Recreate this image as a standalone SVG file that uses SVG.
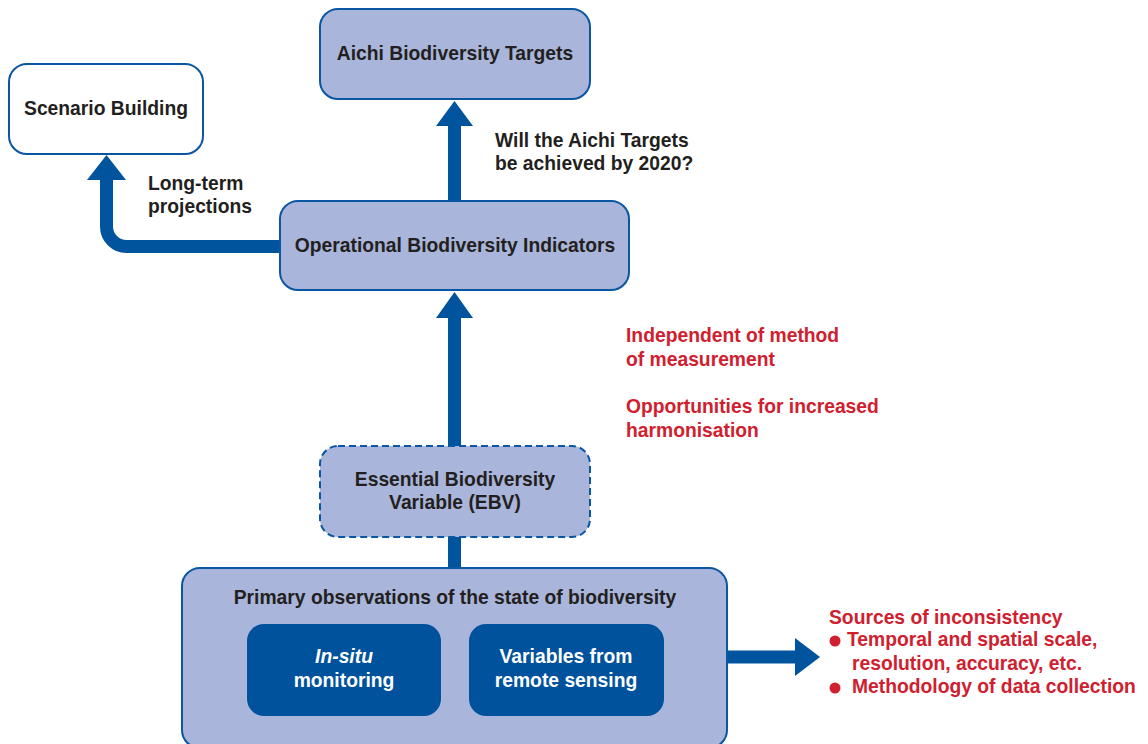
<svg xmlns="http://www.w3.org/2000/svg" width="1148" height="744" viewBox="0 0 1148 744">
<style>
.box{fill:#a9b5da;stroke:#0b56a2;stroke-width:2}
.white{fill:#ffffff;stroke:#0b56a2;stroke-width:2}
.dark{fill:#00529c}
.t{font-family:"Liberation Sans",Arial,sans-serif;font-weight:bold;font-size:19.3px;fill:#231f20}
.c{text-anchor:middle}
.w{fill:#ffffff}
.r{fill:#d0202f}
.shaft{fill:none;stroke:#00539d;stroke-width:13}
.head{fill:#00539d}
</style>
<rect width="1148" height="744" fill="#ffffff"/>
<g id="connectors">
<path class="shaft" d="M281,246.5 H126.5 A20,20 0 0 1 106.5,226.5 V178"/>
<polygon class="head" points="87,180 126,180 106.5,155"/>
<line class="shaft" x1="454.5" y1="201" x2="454.5" y2="124"/>
<polygon class="head" points="436,126 473,126 454.5,101"/>
<line class="shaft" x1="454.5" y1="446" x2="454.5" y2="316"/>
<polygon class="head" points="436,318 473,318 454.5,292"/>
<line class="shaft" x1="454.5" y1="537" x2="454.5" y2="569"/>
<line class="shaft" x1="726" y1="657" x2="797" y2="657"/>
<polygon class="head" points="795,638 795,676 820,657"/>
</g>
<g id="aichi">
<rect class="box" x="320" y="9" width="270" height="90" rx="18"/>
<text class="t c" x="455" y="60">Aichi Biodiversity Targets</text>
</g>
<g id="scenario">
<rect class="white" x="9" y="64" width="194" height="90" rx="18"/>
<text class="t c" x="106" y="115">Scenario Building</text>
</g>
<g id="label-aichi">
<text class="t" x="495" y="147">Will the Aichi Targets</text>
<text class="t" x="495" y="170">be achieved by 2020?</text>
</g>
<g id="label-longterm">
<text class="t" x="148" y="190">Long-term</text>
<text class="t" x="148" y="213">projections</text>
</g>
<g id="operational">
<rect class="box" x="280" y="201" width="349" height="89" rx="18"/>
<text class="t c" x="455" y="252">Operational Biodiversity Indicators</text>
</g>
<g id="label-independent">
<text class="t r" x="626" y="342">Independent of method</text>
<text class="t r" x="626" y="366">of measurement</text>
<text class="t r" x="626" y="413">Opportunities for increased</text>
<text class="t r" x="626" y="437">harmonisation</text>
</g>
<g id="ebv">
<rect class="box" x="320" y="446" width="270" height="91" rx="18" stroke-dasharray="7,4"/>
<text class="t c" x="455" y="486">Essential Biodiversity</text>
<text class="t c" x="455" y="509">Variable (EBV)</text>
</g>
<g id="primary">
<rect class="box" x="182" y="568" width="545" height="180" rx="18"/>
<text class="t c" x="455" y="604">Primary observations of the state of biodiversity</text>
</g>
<g id="insitu">
<rect class="dark" x="247" y="624" width="194" height="92" rx="17"/>
<text class="t c w" x="344" y="663" font-style="italic">In-situ</text>
<text class="t c w" x="344" y="687">monitoring</text>
</g>
<g id="remote">
<rect class="dark" x="469" y="624" width="195" height="92" rx="17"/>
<text class="t c w" x="566" y="663">Variables from</text>
<text class="t c w" x="566" y="687">remote sensing</text>
</g>
<g id="sources">
<text class="t r" x="829" y="624">Sources of inconsistency</text>
<circle cx="835" cy="641" r="5.5" fill="#d0202f"/>
<text class="t r" x="847" y="646">Temporal and spatial scale,</text>
<text class="t r" x="852" y="670">resolution, accuracy, etc.</text>
<circle cx="835" cy="688" r="5.5" fill="#d0202f"/>
<text class="t r" x="852" y="693">Methodology of data collection</text>
</g>
</svg>
